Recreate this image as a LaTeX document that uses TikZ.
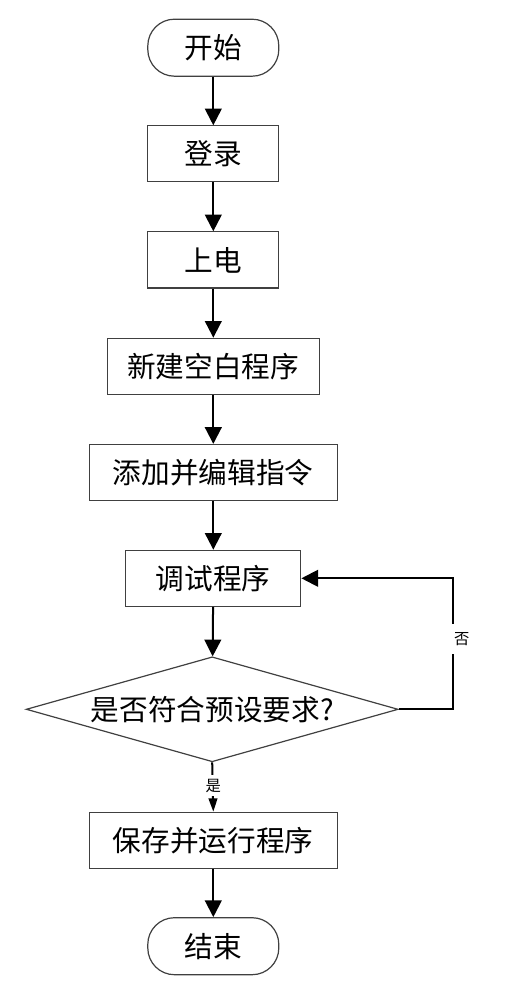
\documentclass[tikz,border=0pt]{standalone}
\usepackage{fontspec}
\setmainfont{Noto Sans CJK SC}
\usetikzlibrary{arrows.meta,shapes.geometric}
\tikzset{
  base/.style={draw=black!75, line width=0.9pt, fill=white, inner sep=0pt, font=\fontsize{21.5}{25}\selectfont, minimum height=42pt},
  term/.style={base, rounded corners=20pt, minimum width=98.25pt, minimum height=42.75pt},
  proc/.style={base},
  decis/.style={base, diamond, shape aspect=3.54, minimum width=279pt, minimum height=78.75pt},
  flow/.style={line width=1.5pt, -{Triangle[width=12.5pt,length=12.5pt]}},
  lbl/.style={fill=white, inner xsep=3pt, inner ysep=4pt, font=\fontsize{11.5}{13}\selectfont}
}
\begin{document}
\begin{tikzpicture}[x=0.75pt, y=-0.75pt]
\useasboundingbox (0,0) rectangle (520,984);
\node[term] (start) at (213.3,47.7) {开始};
\node[proc, minimum width=98.25pt] (login) at (213.3,153.9) {登录};
\node[proc, minimum width=98.25pt] (power) at (213.3,259.9) {上电};
\node[proc, minimum width=159pt] (new) at (213.3,366.3) {新建空白程序};
\node[proc, minimum width=186pt] (edit) at (213.3,472.5) {添加并编辑指令};
\node[proc, minimum width=131.25pt] (debug) at (213.3,578.3) {调试程序};
\node[decis] (check) at (212.2,709.3) {是否符合预设要求?};
\node[proc, minimum width=186pt] (save) at (213.3,840.3) {保存并运行程序};
\node[term] (end) at (213.3,946.2) {结束};
\coordinate (loop) at (453.3,578.3);

\draw[flow] (start) -- (login);
\draw[flow] (login) -- (power);
\draw[flow] (power) -- (new);
\draw[flow] (new) -- (edit);
\draw[flow] (edit) -- (debug);
\draw[flow] (debug) -- (check);
\draw[line width=1.5pt, -{Triangle[width=6.5pt,length=10pt]}] (check.south) -- (save.north);
\node[lbl, inner ysep=3pt] (yes) at (213.3,785.5) {是};
\draw[flow] (check.east) -| (loop) -- (debug.east);
\node[lbl, inner ysep=6pt] (no) at (461.7,639) {否};
\draw[flow] (save) -- (end);
\end{tikzpicture}
\end{document}
